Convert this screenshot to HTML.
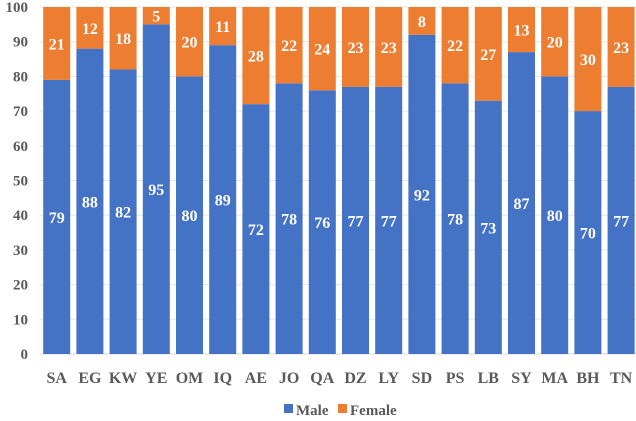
<!DOCTYPE html>
<html><head><meta charset="utf-8"><style>
body{margin:0;background:#fff}
svg text{font-family:"Liberation Serif",serif;font-weight:bold}
</style></head><body>
<svg id="c" width="636" height="416"></svg>
<script>
const categories=["SA","EG","KW","YE","OM","IQ","AE","JO","QA","DZ","LY","SD","PS","LB","SY","MA","BH","TN"];
const male=[79,88,82,95,80,89,72,78,76,77,77,92,78,73,87,80,70,77];
const female=[21,12,18,5,20,11,28,22,24,23,23,8,22,27,13,20,30,23];
const yTicks=[0,10,20,30,40,50,60,70,80,90,100];
const NS="http://www.w3.org/2000/svg";
const svg=document.getElementById('c');
const x0=40,pitch=33.2,bw=27;
const y=v=>354-v*3.47;
const xb=i=>x0+i*pitch+3.2;
function mk(t,a){const e=document.createElementNS(NS,t);for(const k in a)e.setAttribute(k,a[k]);svg.appendChild(e);return e;}
yTicks.forEach(t=>{
 const g=mk('line',{x1:x0,x2:637,y1:y(t),y2:y(t),stroke:t===0?'#d9d9d9':'#e6e6e6','stroke-width':1});
 
 
 const l=mk('text',{x:28,y:y(t)+5,'text-anchor':'end','font-size':15,fill:'#595959'});l.textContent=t;
 
 
});
categories.forEach((c,i)=>{
 const m=mk('rect',{x:xb(i),y:y(male[i]),width:bw,height:y(0)-y(male[i]),fill:'#4472c4'});
 
 
 const f=mk('rect',{x:xb(i),y:y(male[i]+female[i]),width:bw,height:y(male[i])-y(male[i]+female[i]),fill:'#ed7d31'});
 
 
 const cx=xb(i)+bw/2;
 const lm=mk('text',{x:cx,y:y(male[i]/2)+6,'text-anchor':'middle','font-size':16,fill:'#fff'});lm.textContent=male[i];
 
 
 const lf=mk('text',{x:cx,y:y(male[i]+female[i]/2)+6,'text-anchor':'middle','font-size':16,fill:'#fff'});lf.textContent=female[i];
 
 
 const xl=mk('text',{x:cx,y:383,'text-anchor':'middle','font-size':16,fill:'#595959'});xl.textContent=c;
 
 
});
const lg=[['Male','#4472c4',284],['Female','#ed7d31',338]];
lg.forEach(([n,col,lx])=>{
 const r=mk('rect',{x:lx,y:404,width:9,height:9,fill:col});
 
 
 const t=mk('text',{x:lx+12,y:415,'font-size':15,fill:'#595959'});t.textContent=n;
 
 
});
</script>
</body></html>
